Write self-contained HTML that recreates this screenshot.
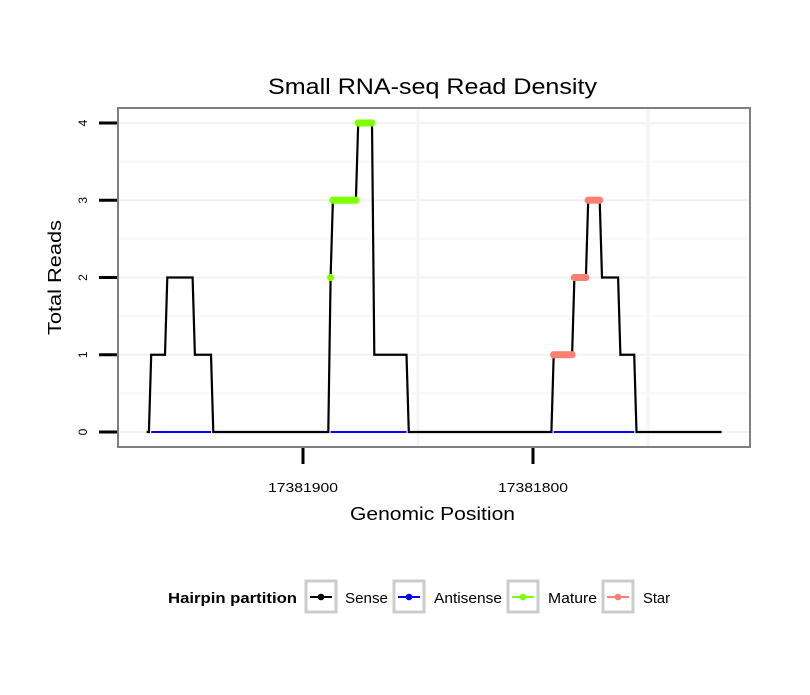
<!DOCTYPE html>
<html><head><meta charset="utf-8"><style>
body{margin:0;background:#fff;}
svg{font-family:"Liberation Sans",sans-serif;}
</style></head><body>
<svg id="chart" width="810" height="690">
<text x="268" y="94" font-size="22" textLength="329" lengthAdjust="spacingAndGlyphs">Small RNA-seq Read Density</text>
<rect x="118" y="108" width="632" height="339" fill="#fff"/>
<g id="grid"></g>
<g id="series"></g>
<rect x="118" y="108" width="632" height="339" fill="none" stroke="#7f7f7f" stroke-width="2"/>
<g id="axes"></g>
<text transform="translate(61,335) rotate(-90)" font-size="18" textLength="115" lengthAdjust="spacingAndGlyphs">Total Reads</text>
<text x="350" y="520" font-size="18" textLength="165" lengthAdjust="spacingAndGlyphs">Genomic Position</text>
<g>
<text x="168" y="603" font-size="15" font-weight="bold" textLength="129" lengthAdjust="spacingAndGlyphs">Hairpin partition</text>
<g id="legend"></g>
</g>
</svg>
<script>
const yTicks=[0,1,2,3,4];
const xTicks=[17381900,17381800];
const xTickLabels=["17381900","17381800"];
const senseX=[17381968,17381967,17381966,17381960,17381959,17381948,17381947,17381940,17381939,17381889,17381888,17381887,17381877,17381876,17381870,17381869,17381855,17381854,17381792,17381791,17381783,17381782,17381777,17381776,17381771,17381770,17381763,17381762,17381756,17381755,17381718];
const senseY=[0,0,1,1,2,2,1,1,0,0,2,3,3,4,4,1,1,0,0,1,1,2,2,3,3,2,2,1,1,0,0];
const antiSegs=[[17381966,17381940],[17381888,17381855],[17381791,17381756]];
const matureX=[17381888,17381887,17381886,17381885,17381884,17381883,17381882,17381881,17381880,17381879,17381878,17381877,17381876,17381875,17381874,17381873,17381872,17381871,17381870];
const matureY=[2,3,3,3,3,3,3,3,3,3,3,3,4,4,4,4,4,4,4];
const starX=[17381791,17381790,17381789,17381788,17381787,17381786,17381785,17381784,17381783,17381782,17381781,17381780,17381779,17381778,17381777,17381776,17381775,17381774,17381773,17381772,17381771];
const starY=[1,1,1,1,1,1,1,1,1,2,2,2,2,2,2,3,3,3,3,3,3];
const legendLabels=["Sense","Antisense","Mature","Star"];
const legendColors=["#000","#0000ff","#7fff00","#fa8072"];

const NS="http://www.w3.org/2000/svg";
const xs=p=>303+(17381900-p)*2.3;
const ys=v=>432-v*77.25;
function mk(t,a,parent){const e=document.createElementNS(NS,t);for(const k in a)e.setAttribute(k,a[k]);parent.appendChild(e);return e;}
const grid=document.getElementById('grid'),ser=document.getElementById('series'),axes=document.getElementById('axes'),leg=document.getElementById('legend');
for(let i=0;i<yTicks.length;i++){
 let l=mk('line',{x1:119,x2:749,y1:ys(yTicks[i]),y2:ys(yTicks[i]),stroke:'#f2f2f2','stroke-width':2},grid);
 
 
 if(i<yTicks.length-1){let m=mk('line',{x1:119,x2:749,y1:ys(yTicks[i]+0.5),y2:ys(yTicks[i]+0.5),stroke:'#f8f8f8','stroke-width':2},grid);
 
 }
}
[17381850,17381750].forEach(p=>{let l=mk('line',{x1:xs(p),x2:xs(p),y1:109,y2:446,stroke:'#f5f5f5','stroke-width':3},grid);
 
 });
let pts=senseX.map((p,i)=>xs(p)+','+ys(senseY[i])).join(' ');
let sl=mk('polyline',{points:pts,fill:'none',stroke:'#000','stroke-width':2.2},ser);


antiSegs.forEach(s=>{let a=mk('line',{x1:xs(s[0]),x2:xs(s[1]),y1:ys(0),y2:ys(0),stroke:'#0000ff','stroke-width':2},ser);
 
 });
function dots(X,Y,c,name){X.forEach((p,i)=>{let d=mk('circle',{cx:xs(p),cy:ys(Y[i]),r:3.6,fill:c},ser);
 
 });}
dots(matureX,matureY,'#7fff00','mature-point');
dots(starX,starY,'#fa8072','star-point');
yTicks.forEach(v=>{let t=mk('line',{x1:99,x2:117,y1:ys(v),y2:ys(v),stroke:'#000','stroke-width':3},axes);
 
 
 let tx=mk('text',{transform:`translate(87,${ys(v)}) rotate(-90)`,'text-anchor':'middle','font-size':12},axes);tx.textContent=v;
 
 });
xTicks.forEach((p,i)=>{let t=mk('line',{x1:xs(p),x2:xs(p),y1:448,y2:464,stroke:'#000','stroke-width':3},axes);
 
 
 let tx=mk('text',{x:xs(p)-35,y:492,'font-size':13,textLength:70,lengthAdjust:'spacingAndGlyphs'},axes);tx.textContent=xTickLabels[i];
 
 });
const boxX=[306,394,508,603],txtX=[345,434,548,643],txtW=[43,68,49,27];
legendLabels.forEach((lab,i)=>{
 let b=mk('rect',{x:boxX[i],y:581,width:30,height:31,fill:'#fff',stroke:'#cccccc','stroke-width':3},leg);
 
 
 mk('line',{x1:boxX[i]+4,x2:boxX[i]+26,y1:597,y2:597,stroke:legendColors[i],'stroke-width':2},leg);
 mk('circle',{cx:boxX[i]+15,cy:597,r:3.3,fill:legendColors[i]},leg);
 let t=mk('text',{x:txtX[i],y:603,'font-size':15,textLength:txtW[i],lengthAdjust:'spacingAndGlyphs'},leg);t.textContent=lab;
 
 
});
</script>
</body></html>
